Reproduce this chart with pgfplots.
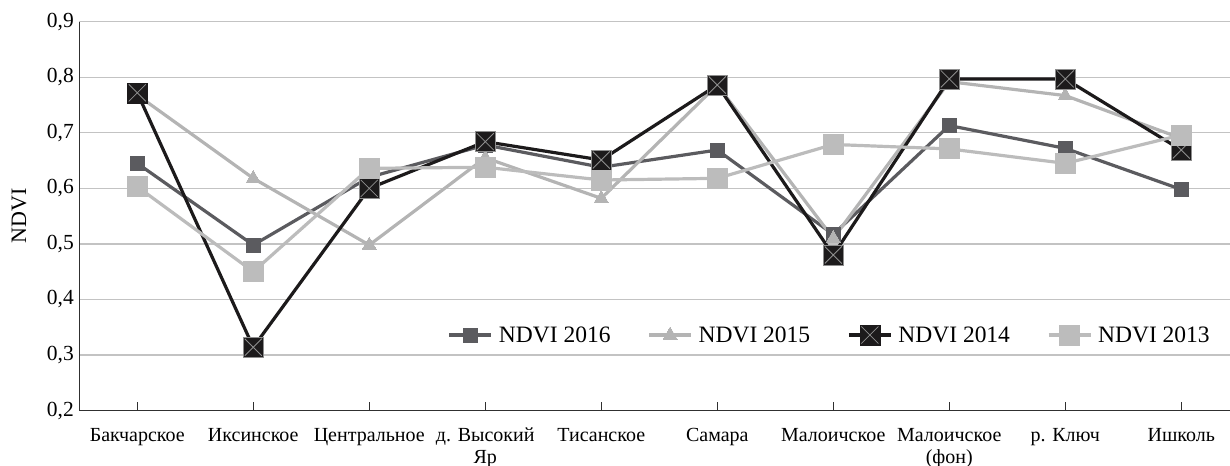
\documentclass[border=0pt]{standalone}
\usepackage{fontspec}
\setmainfont{Liberation Serif}
\usepackage{pgfplots}
\usepackage{pgfplotstable}
\pgfplotsset{compat=1.18}
\definecolor{c16}{HTML}{5B5B5F}
\definecolor{c15}{HTML}{B4B4B4}
\definecolor{c14}{HTML}{1C1A1B}
\definecolor{c13}{HTML}{BCBCBC}
\definecolor{xg}{HTML}{8E8E8E}
\definecolor{gridc}{HTML}{C3C3C3}
\definecolor{axc}{HTML}{303030}
\pgfdeclareplotmark{sqx}{%
  \pgfpathrectangle{\pgfqpoint{-\pgfplotmarksize}{-\pgfplotmarksize}}{\pgfqpoint{2\pgfplotmarksize}{2\pgfplotmarksize}}%
  \pgfusepathqfillstroke
  \pgfsetstrokecolor{xg}%
  \pgfsetlinewidth{0.8bp}%
  \pgfpathmoveto{\pgfqpoint{-0.85\pgfplotmarksize}{-0.85\pgfplotmarksize}}%
  \pgfpathlineto{\pgfqpoint{0.85\pgfplotmarksize}{0.85\pgfplotmarksize}}%
  \pgfpathmoveto{\pgfqpoint{-0.85\pgfplotmarksize}{0.85\pgfplotmarksize}}%
  \pgfpathlineto{\pgfqpoint{0.85\pgfplotmarksize}{-0.85\pgfplotmarksize}}%
  \pgfusepathqstroke
}
\pgfplotstableread{
x y16 y15 y14 y13
0 0.645 0.768 0.772 0.603
1 0.498 0.618 0.314 0.450
2 0.620 0.498 0.600 0.636
3 0.678 0.655 0.684 0.638
4 0.638 0.582 0.651 0.615
5 0.669 0.786 0.786 0.618
6 0.517 0.510 0.480 0.679
7 0.713 0.792 0.797 0.671
8 0.672 0.767 0.797 0.645
9 0.598 0.690 0.669 0.696
}\data
\begin{document}
\begin{tikzpicture}
\begin{axis}[
  scale only axis,
  width=1151bp, height=389bp,
  xmin=-0.5, xmax=9.42,
  ymin=0.2, ymax=0.9,
  ytick={0.2,0.3,...,0.9},
  xtick={0,...,9},
  xticklabels={Бакчарское,Иксинское,Центральное,д. Высокий\\Яр,Тисанское,Самара,Малоичское,Малоичское\\(фон),р. Ключ,Ишколь},
  axis x line=bottom, axis y line=left,
  axis line style={-, draw=axc, line width=1.3bp},
  ymajorgrids, major grid style={draw=gridc, line width=1.2bp},
  tick align=inside,
  xtick style={draw=axc, line width=1.2bp},
  major tick length=9bp,
  ytick style={draw=none},
  /pgf/number format/.cd, use comma, fixed, fixed zerofill, precision=1, assume math mode=true,
  /pgfplots/.cd,
  yticklabel style={font=\fontsize{21.5bp}{21.5bp}\selectfont, xshift=-2bp},
  xticklabel style={font=\fontsize{20bp}{22bp}\selectfont, align=center, yshift=-14bp},
  ylabel={NDVI},
  ylabel style={font=\fontsize{22bp}{22bp}\selectfont, at={(axis description cs:-0.0522,0.5)}, anchor=center},
  clip=false,
  legend columns=4,
  legend style={draw=none, fill=none, at={(axis cs:9.29,0.336)}, anchor=east,
    font=\fontsize{23.5bp}{23.5bp}\selectfont,
    /tikz/every odd column/.append style={column sep=4bp},
    /tikz/every even column/.append style={column sep=35bp}},
  legend image code/.code={\draw[mark repeat=2,mark phase=2] plot coordinates {(0bp,0bp) (21bp,0bp) (42bp,0bp)};},
]
\addplot[c16, line width=3.2bp, mark=square*, mark size=7bp, mark options={fill=c16, draw=c16, line width=0bp}] table[x=x,y=y16]{\data};
\addlegendentry{NDVI 2016}
\addplot[c15, line width=3.2bp, mark=triangle*, mark size=8bp, mark options={fill=c15, draw=c15, line width=0bp}] table[x=x,y=y15]{\data};
\addlegendentry{NDVI 2015}
\addplot[c14, line width=3.2bp, mark=sqx, mark size=10bp, mark options={fill=c14, draw=c14, line width=0.5bp}] table[x=x,y=y14]{\data};
\addlegendentry{NDVI 2014}
\addplot[c13, line width=3.2bp, mark=square*, mark size=10bp, mark options={fill=c13, draw=c13, line width=0bp}] table[x=x,y=y13]{\data};
\addlegendentry{NDVI 2013}
\end{axis}
\pgfresetboundingbox
\path[use as bounding box] ([shift={(-79.3bp,-55.3bp)}]current axis.south west) rectangle ([shift={(0bp,21.7bp)}]current axis.north east);
\end{tikzpicture}
\end{document}
